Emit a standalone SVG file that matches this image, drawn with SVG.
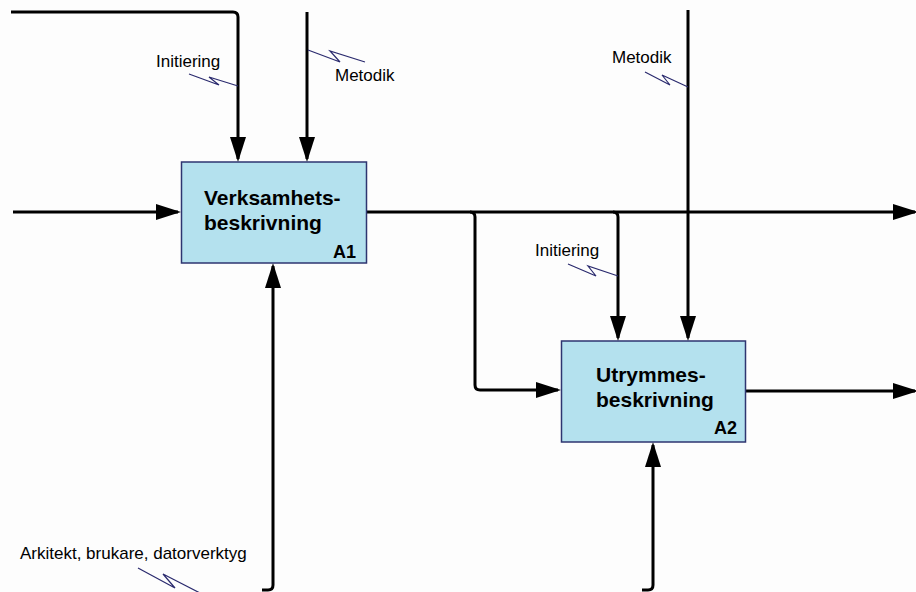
<svg xmlns="http://www.w3.org/2000/svg" width="916" height="592" viewBox="0 0 916 592">
  <style>
    .arrow { fill: none; stroke: #000; stroke-width: 3; stroke-linejoin: round; }
    .squiggle { fill: none; stroke: #2a2a6e; stroke-width: 1.2; }
    .box { fill: #b4e1ee; stroke: #2e3570; stroke-width: 1.5; }
    .title { font-family: "Liberation Sans", Arial, sans-serif; font-weight: bold; font-size: 21px; fill: #000; }
    .code { font-family: "Liberation Sans", Arial, sans-serif; font-weight: bold; font-size: 18px; fill: #000; }
    .label { font-family: "Liberation Sans", Arial, sans-serif; font-size: 17px; fill: #000; }
  </style>
  <defs>
    <marker id="head" markerUnits="userSpaceOnUse" markerWidth="26" markerHeight="18" refX="22" refY="8" orient="auto">
      <path d="M0,0 L25,8 L0,16 Z" fill="#000"/>
    </marker>
  </defs>
  <rect width="916" height="592" fill="#fdfdfd"/>

  <g id="connectors">
    <!-- A1 controls -->
    <path class="arrow" d="M11,12 H233 Q238,12 238,17 V159" marker-end="url(#head)"/>
    <path class="arrow" d="M307,12 V159" marker-end="url(#head)"/>
    <!-- A1 input -->
    <path class="arrow" d="M13,212 H178" marker-end="url(#head)"/>
    <!-- A1 output -->
    <path class="arrow" d="M366,212 H915" marker-end="url(#head)"/>
    <!-- branches to A2 -->
    <path class="arrow" d="M470,212 Q475,212 475,217 V385 Q475,390 480,390 H558" marker-end="url(#head)"/>
    <path class="arrow" d="M613,212 Q618,212 618,217 V338" marker-end="url(#head)"/>
    <!-- A2 control -->
    <path class="arrow" d="M688,10 V338" marker-end="url(#head)"/>
    <!-- A2 output -->
    <path class="arrow" d="M745,391 H915" marker-end="url(#head)"/>
    <!-- mechanisms -->
    <path class="arrow" d="M262,590 H268 Q273,590 273,585 V266" marker-end="url(#head)"/>
    <path class="arrow" d="M642,590 H648 Q653,590 653,585 V445" marker-end="url(#head)"/>

    <!-- label leaders -->
    <path class="squiggle" d="M189,74 L219,85 L209,77 L238,86"/>
    <path class="squiggle" d="M308,50 L340,62 L330,51 L365,62"/>
    <path class="squiggle" d="M645,72 L670,85 L662,75 L688,87"/>
    <path class="squiggle" d="M568,264 L596,276 L588,266 L618,276"/>
    <path class="squiggle" d="M138,568 L175,588 L163,574 L200,593"/>
  </g>

  <g id="labels">
    <text class="label" x="156" y="67">Initiering</text>
    <text class="label" x="335" y="81">Metodik</text>
    <text class="label" x="612" y="63">Metodik</text>
    <text class="label" x="535" y="256">Initiering</text>
    <text class="label" x="20" y="559">Arkitekt, brukare, datorverktyg</text>
  </g>

  <g id="A1">
    <rect class="box" x="181.5" y="162" width="185" height="101"/>
    <text class="title" x="204" y="205">Verksamhets-</text>
    <text class="title" x="204" y="230">beskrivning</text>
    <text class="code" x="356" y="258" text-anchor="end">A1</text>
  </g>

  <g id="A2">
    <rect class="box" x="561.5" y="341" width="184" height="101"/>
    <text class="title" x="596" y="382">Utrymmes-</text>
    <text class="title" x="596" y="407">beskrivning</text>
    <text class="code" x="737" y="434" text-anchor="end">A2</text>
  </g>
</svg>
